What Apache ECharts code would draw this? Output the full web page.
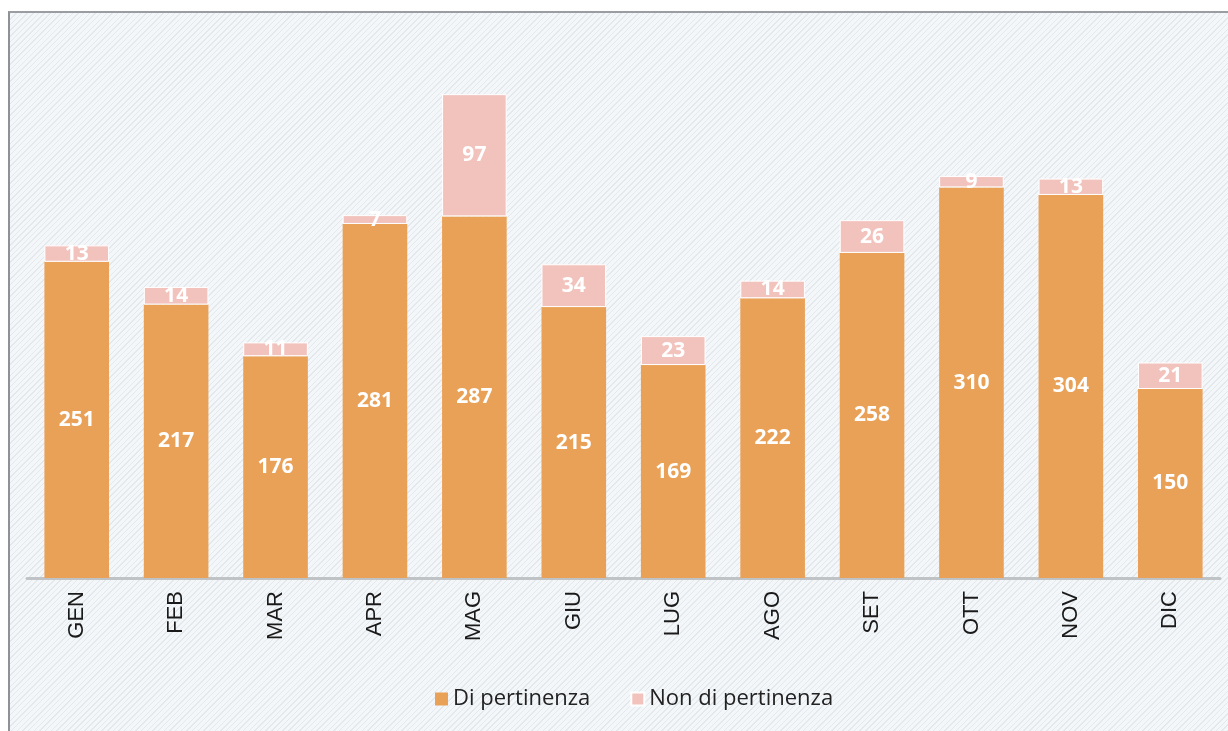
<!DOCTYPE html>
<html>
<head>
<meta charset="utf-8">
<script src="https://cdn.jsdelivr.net/npm/echarts@6/dist/echarts.min.js"></script>
<style>
  html, body { margin: 0; padding: 0; background: #ffffff; }
  #frame {
    position: absolute; left: 8px; top: 11px; width: 1230px; height: 730px;
    border-left: 2px solid #8e9296; border-top: 2px solid #9a9ea2;
    background-color: #f4f7f9;
    background-image: repeating-linear-gradient(135deg, rgba(190,198,205,0.3) 0 1px, transparent 1px 4px);
  }
  #chart { position: absolute; left: 0; top: 0; width: 1228px; height: 731px; }
</style>
</head>
<body>
<div id="frame"></div>
<div id="chart"></div>
<script>
const months = ['GEN', 'FEB', 'MAR', 'APR', 'MAG', 'GIU', 'LUG', 'AGO', 'SET', 'OTT', 'NOV', 'DIC'];
const diPertinenza = [251, 217, 176, 281, 287, 215, 169, 222, 258, 310, 304, 150];
const nonDiPertinenza = [13, 14, 11, 7, 97, 34, 23, 14, 26, 9, 13, 21];

const chart = echarts.init(document.getElementById('chart'));

const labelStyle = {
  show: true,
  position: 'inside',
  color: '#ffffff',
  fontFamily: 'Open Sans',
  fontWeight: 'bold',
  fontSize: 21
};

chart.setOption({
  backgroundColor: 'transparent',
  animation: false,
  grid: { left: 27, right: 8, top: 74, bottom: 153, containLabel: false },
  legend: {
    bottom: 16,
    left: 430,
    icon: 'rect',
    itemWidth: 13,
    itemHeight: 13,
    itemGap: 40,
    textStyle: { fontFamily: 'Open Sans', fontSize: 22, color: '#222' },
    data: ['Di pertinenza', 'Non di pertinenza']
  },
  xAxis: {
    type: 'category',
    data: months,
    axisLine: { lineStyle: { color: '#bfc3c6', width: 3 } },
    axisTick: { show: false },
    axisLabel: {
      rotate: 90,
      margin: 13,
      color: '#1a1a1a',
      fontFamily: 'Liberation Sans',
      fontSize: 22
    }
  },
  yAxis: {
    type: 'value',
    min: 0,
    max: 400,
    show: false,
    splitLine: { show: false }
  },
  series: [
    {
      name: 'Di pertinenza',
      type: 'bar',
      stack: 'tot',
      barWidth: '65%',
      data: diPertinenza,
      itemStyle: { color: '#e9a157' },
      label: labelStyle
    },
    {
      name: 'Non di pertinenza',
      type: 'bar',
      stack: 'tot',
      data: nonDiPertinenza,
      itemStyle: { color: '#f2c3bd', borderColor: '#ffffff', borderWidth: 1 },
      label: labelStyle
    }
  ]
});
</script>
</body>
</html>
